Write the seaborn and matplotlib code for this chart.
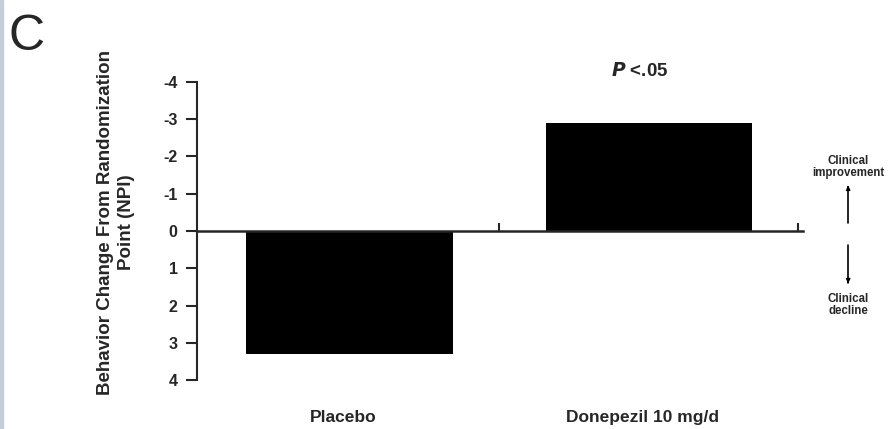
import matplotlib
matplotlib.use('Agg')
import matplotlib.pyplot as plt
from matplotlib.patches import Rectangle
import pandas as pd
import seaborn as sns

# values (NPI change; negative = improvement)
groups = ['Placebo', 'Donepezil 10 mg/d']
npi_change = [3.3, -2.9]
yticks = [-4, -3, -2, -1, 0, 1, 2, 3, 4]
panel = 'C'
ylabel = 'Behavior Change From Randomization\nPoint (NPI)'

df = pd.DataFrame({'group': groups, 'change': npi_change})

sns.set_style('white')
plt.rcParams['font.family'] = ['Liberation Sans', 'DejaVu Sans']

fig = plt.figure(figsize=(8.9, 4.29), dpi=100)
fig.patch.set_facecolor('white')
fig.patches.append(Rectangle((0, 0), 0.0035, 1, transform=fig.transFigure,
                             color='#c5cdd8', zorder=0))
ax = fig.add_axes([0.2213, 0.1142, 0.6809, 0.6947])

sns.barplot(data=df, x='group', y='change', color='black', width=0.69,
            saturation=1, linewidth=0, ax=ax)
ax.set_xlim(-0.51, 1.515)
ax.set_ylim(4, -4)
ax.set_yticks(yticks)
ax.set_yticklabels([str(t) for t in yticks], fontsize=11.5, fontweight='bold')
ax.tick_params(axis='y', direction='out', length=8, width=1.5, pad=6,
               left=True)

# x axis drawn along zero, with upward ticks between categories
for side in ['top', 'right']:
    ax.spines[side].set_visible(False)
ax.spines['bottom'].set_position(('data', 0))
ax.spines['bottom'].set_linewidth(1.8)
ax.spines['left'].set_linewidth(1.5)
ax.set_xticks([0.5, 1.5])
ax.set_xticklabels([])
ax.tick_params(axis='x', direction='in', length=6, width=1.5, bottom=True)
ax.set_xlabel('')
ax.set_ylabel(ylabel, fontsize=13.5, fontweight='bold', linespacing=1.35)
ax.yaxis.set_label_coords(-0.102, 0.53)

for i, g in enumerate(groups):
    ax.text(i - 0.02, -0.125, g, transform=ax.get_xaxis_transform(),
            ha='center', va='center', fontsize=12.5, fontweight='bold')

ax.text(0.97, -4.3, r'$\mathbfit{P}$' + ' <.05', ha='center', va='center',
        fontsize=13.5, fontweight='bold', clip_on=False)

fig.text(0.009, 0.914, panel, fontsize=36, ha='left', va='center')

# right-hand direction key
kx = 0.953
fig.text(kx, 0.611, 'Clinical\nimprovement', ha='center', va='center',
         fontsize=8.3, fontweight='bold', linespacing=1.0)
fig.text(kx, 0.289, 'Clinical\ndecline', ha='center', va='center',
         fontsize=8.3, fontweight='bold', linespacing=1.0)
fig.add_artist(plt.Line2D([kx, kx], [0.48, 0.565], color='black', lw=1.2,
                          transform=fig.transFigure))
fig.add_artist(plt.Line2D([kx, kx], [0.34, 0.43], color='black', lw=1.2,
                          transform=fig.transFigure))
ax.annotate('', xy=(kx, 0.574), xytext=(kx, 0.556), xycoords='figure fraction',
            arrowprops=dict(arrowstyle='-|>', color='black', lw=1.0,
                            mutation_scale=6))
ax.annotate('', xy=(kx, 0.333), xytext=(kx, 0.351), xycoords='figure fraction',
            arrowprops=dict(arrowstyle='-|>', color='black', lw=1.0,
                            mutation_scale=6))

fig.savefig('out.png', dpi=100, facecolor='white')
